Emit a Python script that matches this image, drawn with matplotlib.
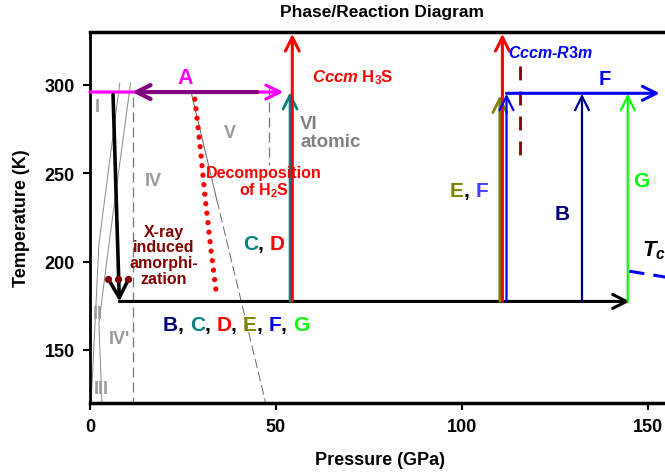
import matplotlib.pyplot as plt

plt.rcParams['font.family'] = ['Liberation Sans', 'DejaVu Sans']
plt.rcParams['font.weight'] = 'bold'
plt.rcParams['axes.labelweight'] = 'bold'
plt.rcParams['mathtext.fontset'] = 'custom'
plt.rcParams['mathtext.rm'] = 'Liberation Sans:bold'
plt.rcParams['mathtext.it'] = 'Liberation Sans:bold:italic'
plt.rcParams['mathtext.bf'] = 'Liberation Sans:bold'

# phase boundaries of H2S (pressure GPa, temperature K)
bound1_p = [8.0, 2.4, 0.3]
bound1_t = [301, 210, 120]
bound2_p = [10.9, 5.1, 2.4, 3.2]
bound2_t = [301, 210, 165, 120]
diag_p = [27.3, 34.1, 47.3]
diag_t = [295, 235, 119.5]
dash1_p = [11.6, 11.6]
dash1_t = [293, 120]
dash2_p = [48.1, 48.1]
dash2_t = [299, 255]

# decomposition of H2S (red dots)
decomp_p = [28.2, 29.6, 30.9, 32.4, 34.1]
decomp_t = [292, 265.7, 237.4, 209, 180]

# x-ray amorphization points
xray_p = [4.8, 7.5, 10.2]
xray_t = [190, 190, 190]

# Tc line
tc_p = [145, 160]
tc_t = [194.6, 189.5]

# routes
cool_t = 177.5
cool_p = [7.9, 145.2]
down_p = [6.2, 7.9]
down_t = [294.5, 177.5]
routeA_p = [0, 52]
routeA_back_p = [45, 11.3]
routeF_p = [112.0, 153.2]
vert_p = [53.8, 54.4, 110.2, 110.9, 112.0, 132.3, 144.6]
vert_top = [296, 329, 294, 329, 295, 295, 295]
vert_colors = ['#008080', '#ff0000', '#808000', '#ff0000', '#0000ff', '#000080', '#00ff00']
vert_lw = [2.0, 2.2, 2.0, 2.2, 1.6, 1.6, 1.6]

fig = plt.figure(figsize=(6.65, 4.77), dpi=100)
ax = fig.add_axes([90 / 665, 73 / 477, 595 / 665, 371 / 477])
ax.set_xlim(0, 160)
ax.set_ylim(120, 330)


def arrow(p0, t0, p1, t1, color, lw, hl=0.5, hw=0.25, ms=20, z=3):
    ax.annotate('', xy=(p1, t1), xytext=(p0, t0), zorder=z,
                arrowprops=dict(arrowstyle=f'->,head_length={hl},head_width={hw}',
                                color=color, lw=lw, shrinkA=0, shrinkB=0,
                                mutation_scale=ms))


def rainbow(x, y, parts, size):
    t = ax.text(x, y, parts[0][0], color=parts[0][1], fontsize=size, va='center')
    for s, c in parts[1:]:
        t = ax.annotate(s, xycoords=t, xy=(1, 0), va='bottom', color=c, fontsize=size)


gray = '#999999'
ax.plot(bound1_p, bound1_t, color='#888888', lw=0.7)
ax.plot(bound2_p, bound2_t, color='#888888', lw=0.7)
ax.plot(diag_p[:2], diag_t[:2], color='#666666', lw=0.7)
ax.plot(diag_p[1:], diag_t[1:], color='#666666', lw=0.7, ls=(0, (10, 4)))
ax.plot(dash1_p, dash1_t, color='#777777', lw=0.9, ls=(0, (8, 4)))
ax.plot(dash2_p, dash2_t, color='#777777', lw=0.9, ls=(0, (8, 4)))

ax.plot(decomp_p, decomp_t, color='#ff0000', lw=3.8, ls=(0, (0.01, 1.8)),
        dash_capstyle='round', zorder=4)
ax.plot(xray_p, xray_t, 'o', color='#800000', ms=4.2, zorder=4)
ax.plot([115.6, 115.6], [311, 254], color='#800000', lw=2, ls=(0, (5, 4)))
ax.plot(tc_p, tc_t, color='#0000ff', lw=2.2, ls=(0, (5, 3)))

# routes
arrow(routeA_p[0], 296, routeA_p[1], 296, '#ff00ff', 2.3)
arrow(routeA_back_p[0], 296, routeA_back_p[1], 296, '#800080', 3, z=4)
arrow(down_p[0], down_t[0], down_p[1], down_t[1], 'black', 2.6, hl=0.55, hw=0.3)
arrow(cool_p[0], cool_t, cool_p[1], cool_t, 'black', 2.2)
for p, top, c, lw in zip(vert_p, vert_top, vert_colors, vert_lw):
    arrow(p, cool_t, p, top, c, lw)
arrow(routeF_p[0], 295.3, routeF_p[1], 295.3, '#0000ff', 2.2)

# labels
for s, p, t in [('I', 2.0, 288), ('IV', 17, 246), ('V', 37.6, 273),
                ('II', 2.0, 170.5), ("IV'", 7.9, 156.3), ('III', 3.1, 128)]:
    ax.text(p, t, s, color=gray, fontsize=13, ha='center', va='center')
ax.text(56.5, 273, 'VI\natomic', color='#808080', fontsize=13.5, ha='left',
        va='center', linespacing=1.05)
ax.text(25.5, 304.4, 'A', color='#ff00ff', fontsize=15.5, ha='center', va='center')
ax.text(138.5, 303.8, 'F', color='#0000ff', fontsize=14.5, ha='center', va='center')
ax.text(148.3, 246, 'G', color='#00ff00', fontsize=15, ha='center', va='center')
ax.text(127, 227, 'B', color='#000080', fontsize=15, ha='center', va='center')
ax.text(148.4, 203.5, r'$T_c$', color='black', fontsize=16, ha='left', va='baseline')
ax.text(112.4, 318.5, r'$Cccm$-$R3m$', color='#0000ff', fontsize=11.5, ha='left', va='center')
ax.text(59.6, 304.7, r'$Cccm$ H$_3$S', color='#ff0000', fontsize=12, ha='left', va='center')
ax.text(46.8, 245, 'Decomposition\nof H$_2$S', color='#ff0000', fontsize=11.5,
        ha='center', va='center', linespacing=1.0)
ax.text(19.9, 204, 'X-ray\ninduced\namorphi-\nzation', color='#800000', fontsize=11.5,
        ha='center', va='center', linespacing=1.05)

rainbow(41.1, 210, [('C', '#008080'), (', ', 'black'), ('D', '#ff0000')], 15)
rainbow(96.8, 240.2, [('E', '#808000'), (', ', 'black'), ('F', '#4040ff')], 15)
rainbow(19.6, 164.3, [('B', '#000080'), (', ', 'black'), ('C', '#008080'), (', ', 'black'),
                      ('D', '#ff0000'), (', ', 'black'), ('E', '#808000'), (', ', 'black'),
                      ('F', '#0000ff'), (', ', 'black'), ('G', '#00ff00')], 15)

ax.set_xticks([0, 50, 100, 150])
ax.set_yticks([150, 200, 250, 300])
ax.tick_params(direction='out', length=5, width=1.5, labelsize=13, pad=6)
for lab in ax.get_xticklabels() + ax.get_yticklabels():
    lab.set_fontweight('bold')
ax.spines['left'].set_linewidth(2)
ax.spines['bottom'].set_linewidth(2.5)
ax.spines['top'].set_linewidth(2.5)
ax.set_ylabel('Temperature (K)', fontsize=13, fontweight='bold')
ax.yaxis.set_label_coords(-0.101, 0.5)
ax.set_xlabel('Pressure (GPa)', fontsize=13, fontweight='bold')
ax.xaxis.set_label_coords(0.4866, -0.13)
fig.text(381.5 / 665, 1 - 13 / 477, 'Phase/Reaction Diagram', ha='center', va='center',
         fontsize=12.5, fontweight='bold')

fig.savefig('out.png', dpi=100)
